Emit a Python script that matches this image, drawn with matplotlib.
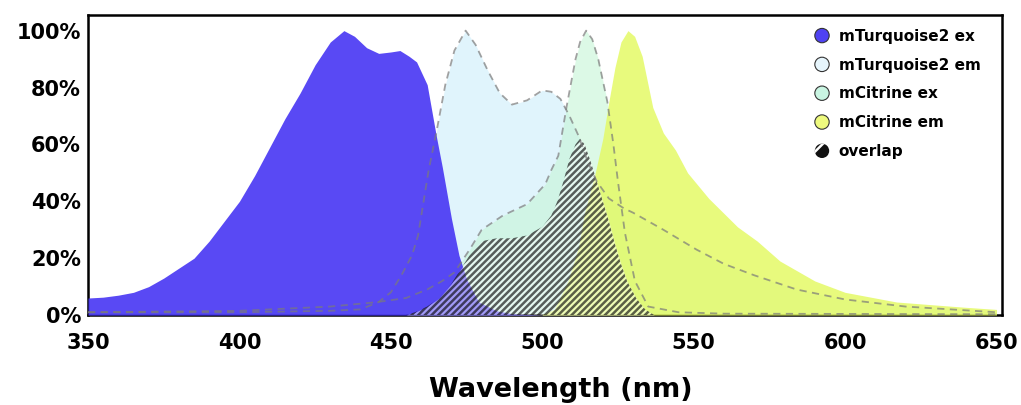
import matplotlib
matplotlib.use('Agg')
import matplotlib.pyplot as plt
import matplotlib.patches as mpatches
from matplotlib.legend_handler import HandlerPatch

plt.rcParams['font.family'] = ['DejaVu Sans']
plt.rcParams['font.weight'] = 'bold'
plt.rcParams['hatch.linewidth'] = 1.8

# spectra (% of max)
tq_ex_nm = [350, 355, 360, 365, 370, 375, 380, 385, 390, 395, 400, 405, 410, 415, 420,
            425, 430, 434.5, 438, 442, 446, 450, 453, 456, 458.5, 462, 465, 467, 470,
            472.5, 475, 479, 485, 490, 500]
tq_ex = [6, 6.3, 7, 8, 10, 13, 16.5, 20, 26, 33, 40, 49, 59, 69, 78,
         88, 96, 100, 98, 94, 92, 92.5, 93, 91, 89, 81, 63, 52, 34,
         21, 12.7, 4.6, 1.5, 0.5, 0]

tq_em_nm = [350, 400, 430, 440, 446, 450, 453.5, 457, 459, 462.5, 465, 468, 471, 474.7,
            478, 482, 486, 490, 495, 500, 503, 506, 509, 512, 515, 518, 522, 527, 530,
            540, 551, 560, 570, 584, 600, 620, 650]
tq_em = [1, 1, 1.5, 2, 4.6, 8, 14, 21, 28, 51, 64, 81, 93, 100,
         95, 86, 78, 74, 75.5, 79, 78.5, 76, 70, 63, 54, 47, 41, 37.5, 36,
         30, 23, 18, 14, 9, 5.5, 3, 1]

ci_ex_nm = [350, 400, 430, 445, 455, 462, 467, 471, 476, 480, 487, 495, 501, 503, 505.3,
            508, 511, 512.5, 514.5, 516.5, 518.5, 521.5, 523.5, 525, 527.3, 530.6, 535,
            545, 560, 650]
ci_ex = [1, 1.5, 3, 4.5, 6, 9, 12, 15, 23, 30, 35, 39, 46, 51, 56,
         73, 90, 96, 100, 97, 90, 75, 60, 47, 29, 12, 3,
         1, 0.5, 0.3]

ci_em_nm = [500, 504, 508.5, 512, 514, 517.5, 520, 522, 524, 526, 528.3, 530.5, 533,
            536.5, 540, 544, 548, 555, 564.5, 571, 578.5, 590, 600, 617, 639, 650]
ci_em = [0.3, 2, 12, 24, 36, 50, 62, 75, 87, 96, 100, 98, 91,
         73, 64, 58, 50, 41, 31, 26, 19, 12, 8, 4.6, 2.8, 2]

overlap_nm = [455, 458, 462, 466, 470, 473, 476, 480, 485, 490, 495, 500, 503, 505, 507,
              509, 511, 512.5, 514, 516, 518, 520, 522, 524, 526, 528, 531, 534, 537]
overlap = [0, 1, 3, 6, 11, 16, 21, 26, 27, 27, 28, 31, 35, 40, 47,
           55, 60, 62, 60, 54, 47, 40, 33, 25, 18, 12, 6, 2, 0]

labels = ['mTurquoise2 ex', 'mTurquoise2 em', 'mCitrine ex', 'mCitrine em', 'overlap']
yticks = [0, 20, 40, 60, 80, 100]
xticks = [350, 400, 450, 500, 550, 600, 650]

c_tq_ex = '#4C3BF4'
c_tq_em = '#E0F4FC'
c_ci_ex = '#C6F5D6'
c_ci_em = '#E4FA66'


def circle_patch(legend, orig_handle, xdescent, ydescent, width, height, fontsize):
    r = 0.5 * height * 1.05
    return mpatches.Circle((-xdescent + width / 2, -ydescent + height / 2), radius=r)


fig = plt.figure(figsize=(10.21, 4.05), dpi=100)
ax = fig.add_axes([0.0862, 0.222, 0.8948, 0.741])

ax.fill_between(tq_em_nm, tq_em, color=c_tq_em, lw=0, zorder=1)
ax.fill_between(ci_ex_nm, ci_ex, color=c_ci_ex, alpha=0.6, lw=0, zorder=2)
ax.fill_between(ci_em_nm, ci_em, color=c_ci_em, alpha=0.85, lw=0, zorder=3)
ax.fill_between(tq_ex_nm, tq_ex, color=c_tq_ex, alpha=0.93, lw=0, zorder=4)

# overlap: light wash + dark stripes
ax.fill_between(overlap_nm, overlap, color='white', alpha=0.45, lw=0, zorder=5)
ax.fill_between(overlap_nm, overlap, facecolor='none', edgecolor='black', hatch='/////',
                lw=0, alpha=0.62, zorder=6)

ax.plot(tq_em_nm, tq_em, color='#7a7a7a', ls=(0, (4, 3)), lw=1.3, alpha=0.7, zorder=7)
ax.plot(ci_ex_nm, ci_ex, color='#7a7a7a', ls=(0, (4, 3)), lw=1.3, alpha=0.7, zorder=7)

ax.set_xlim(350, 651.7)
ax.set_ylim(0, 105.5)
ax.set_xticks(xticks)
ax.set_yticks(yticks)
ax.set_yticklabels([f'{v}%' for v in yticks])
ax.tick_params(axis='both', length=0, labelsize=15)
ax.tick_params(axis='x', pad=13)
ax.tick_params(axis='y', pad=5)
for s in ax.spines.values():
    s.set_linewidth(1.8)
ax.set_xlabel('Wavelength (nm)', fontsize=19.5, fontweight='bold')
ax.xaxis.set_label_coords(0.517, -0.205)

handles = [
    mpatches.Patch(facecolor='#4F42F2', edgecolor='#333333', lw=0.8),
    mpatches.Patch(facecolor='#E6F5FC', edgecolor='#333333', lw=0.8),
    mpatches.Patch(facecolor='#C9F5E2', edgecolor='#333333', lw=0.8),
    mpatches.Patch(facecolor='#EEFA7E', edgecolor='#333333', lw=0.8),
    mpatches.Patch(facecolor='#111111', edgecolor='white', lw=0, hatch='/'),
]
leg = ax.legend(handles, labels, loc='upper left', bbox_to_anchor=(0.78, 1.0),
                frameon=False, fontsize=11, handlelength=1.0, handleheight=1.0,
                handletextpad=0.6, labelspacing=0.9,
                handler_map={mpatches.Patch: HandlerPatch(patch_func=circle_patch)})
for t in leg.get_texts():
    t.set_fontweight('bold')

fig.savefig('out.png', dpi=100)
